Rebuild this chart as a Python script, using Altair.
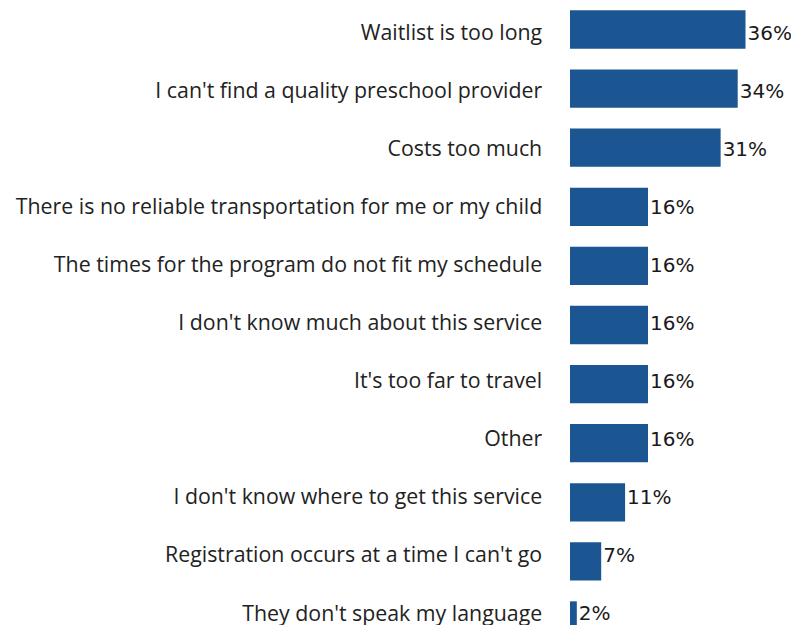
import altair as alt
import pandas as pd

categories = [
    "Waitlist is too long",
    "I can't find a quality preschool provider",
    "Costs too much",
    "There is no reliable transportation for me or my child",
    "The times for the program do not fit my schedule",
    "I don't know much about this service",
    "It's too far to travel",
    "Other",
    "I don't know where to get this service",
    "Registration occurs at a time I can't go",
    "They don't speak my language",
]
values = [36.0, 34.4, 30.9, 16.0, 16.0, 16.0, 16.0, 16.0, 11.3, 6.4, 1.4]
labels = ["36%", "34%", "31%", "16%", "16%", "16%", "16%", "16%", "11%", "7%", "2%"]

df = pd.DataFrame({"cat": categories, "val": values, "lab": labels})

x_enc = alt.X("val:Q", title=None, scale=alt.Scale(domain=[0, 40]), axis=None)

bars = alt.Chart(df).mark_bar(color="#1B5692").encode(
    x=x_enc,
    y=alt.Y(
        "cat:N",
        sort=categories,
        title=None,
        scale=alt.Scale(paddingInner=0.352, paddingOuter=0.04, range=[0, 634]),
        axis=None,
    ),
)

text = alt.Chart(df).mark_text(
    align="left", baseline="alphabetic", dx=2, font="DejaVu Sans", fontSize=20, color="#1a1a1a"
).encode(
    x=x_enc,
    y=alt.Y(
        "cat:N",
        sort=categories,
        title=None,
        scale=alt.Scale(type="point", padding=0, range=[31.5, 612]),
        axis=alt.Axis(
            domain=False,
            ticks=False,
            grid=False,
            labelPadding=28.3,
            labelLimit=700,
            labelFont="Open Sans",
            labelFontSize=21.33,
            labelColor="#222222",
            labelBaseline="alphabetic",
        ),
    ),
    text="lab:N",
)

chart = (
    alt.layer(bars, text)
    .resolve_scale(y="independent")
    .properties(
        width=195,
        height=617,
        autosize=alt.AutoSizeParams(type="none"),
        padding={"left": 562, "top": 0, "right": 26, "bottom": 0},
    )
    .configure_view(stroke=None)
)

chart.save("out.html", embed_options={"renderer": "svg", "actions": False})
